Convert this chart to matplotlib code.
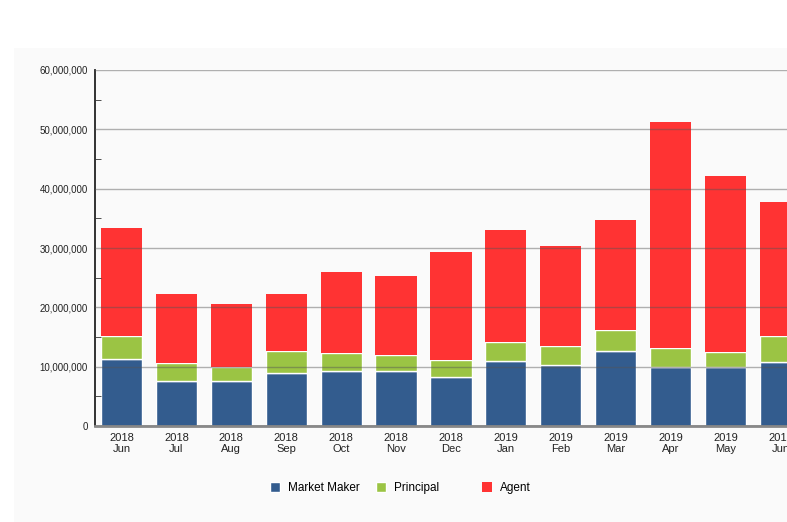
import numpy as np
import matplotlib.pyplot as plt
from matplotlib.patches import Rectangle
from matplotlib.ticker import FuncFormatter, MultipleLocator

plt.rcParams['font.family'] = ['Liberation Sans', 'DejaVu Sans']

months = ['2018\nJun', '2018\nJul', '2018\nAug', '2018\nSep', '2018\nOct', '2018\nNov',
          '2018\nDec', '2019\nJan', '2019\nFeb', '2019\nMar', '2019\nApr', '2019\nMay',
          '2019\nJun']
market_maker = [11.3, 7.6, 7.6, 8.9, 9.3, 9.3, 8.3, 11.0, 10.3, 12.6, 9.9, 9.9, 10.8]
principal = [3.9, 3.0, 2.3, 3.7, 3.0, 2.7, 2.8, 3.2, 3.2, 3.6, 3.2, 2.6, 4.4]
agent = [18.2, 11.6, 10.7, 9.6, 13.7, 13.3, 18.2, 18.8, 16.8, 18.5, 38.1, 29.6, 22.6]
series = ['Market Maker', 'Principal', 'Agent']
colors = ['#335c8e', '#9bc444', '#ff3333']

mm = np.array(market_maker) * 1e6
pr = np.array(principal) * 1e6
ag = np.array(agent) * 1e6
x = np.arange(len(months))

fig = plt.figure(figsize=(7.87, 5.22), dpi=100)
fig.patches.append(Rectangle((14 / 787, 0), 1, 1 - 48 / 522, transform=fig.transFigure,
                             facecolor='#fafafa', edgecolor='none', zorder=-10))
ax = fig.add_axes([95 / 787, 1 - 426 / 522, 1 - 95 / 787, 356 / 522])
ax.set_facecolor('#fafafa')

w = 0.75
b1 = ax.bar(x, mm, w, color=colors[0], edgecolor='white', linewidth=1, zorder=2)
b2 = ax.bar(x, pr, w, bottom=mm, color=colors[1], edgecolor='white', linewidth=1, zorder=2)
b3 = ax.bar(x, ag, w, bottom=mm + pr, color=colors[2], edgecolor='none', zorder=2)

ax.set_xlim(-0.483, 12.12)
ax.set_ylim(0, 60e6)
ax.yaxis.set_major_locator(MultipleLocator(10e6))
ax.yaxis.set_minor_locator(MultipleLocator(5e6))
ax.yaxis.set_major_formatter(FuncFormatter(lambda v, p: f'{int(v):,}'))
ax.grid(axis='y', which='major', color='#555555', alpha=0.45, linewidth=1, zorder=3)
ax.set_axisbelow(False)

ax.set_xticks(x)
ax.set_xticklabels(months, fontsize=8, color='#222222', linespacing=1.15)
ax.tick_params(axis='x', length=0, pad=5)
ax.tick_params(axis='y', which='major', length=0, labelsize=7, labelcolor='#222222', pad=5)
ax.tick_params(axis='y', which='minor', direction='in', length=4, color='#333333')

for s in ['top', 'right']:
    ax.spines[s].set_visible(False)
ax.spines['left'].set_color('#222222')
ax.spines['left'].set_linewidth(1.3)
ax.spines['bottom'].set_color('#888888')
ax.spines['bottom'].set_linewidth(2)

# one legend entry per fixed-width slot
for i, (h, name) in enumerate(zip([b1, b2, b3], series)):
    fig.legend([h], [name], loc='center left',
               bbox_to_anchor=((266 + 106 * i) / 787, 1 - 488 / 522), frameon=False,
               fontsize=8.5, handlelength=0.85, handleheight=0.85, handletextpad=0.7,
               borderaxespad=0, borderpad=0.3)

fig.savefig('out.png', dpi=100)
